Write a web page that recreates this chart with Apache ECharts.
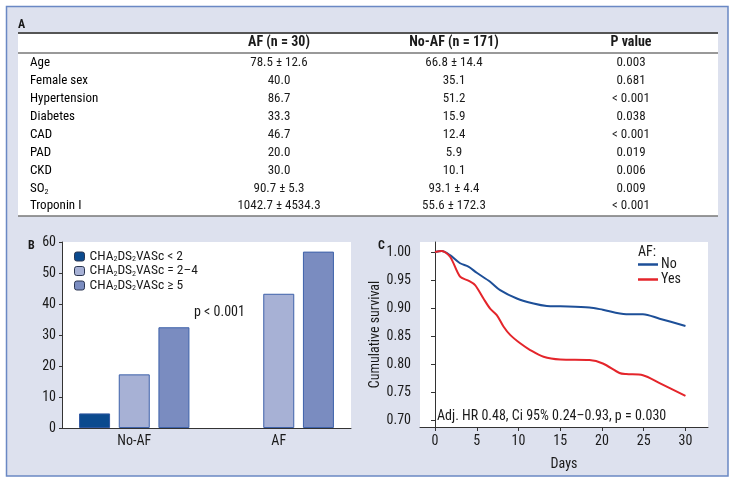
<!DOCTYPE html>
<html><head><meta charset="utf-8">
<script src="https://cdn.jsdelivr.net/npm/echarts@6/dist/echarts.min.js"></script>
<style>html,body{margin:0;padding:0;background:#fff}#c{width:735px;height:483px}</style>
</head><body><div id="c"></div>
<script>
const FONT = "'Liberation Sans Narrow','Roboto Condensed','DejaVu Sans Condensed','Liberation Sans',Arial,sans-serif";

// ---- Panel A: table ----
const tableHeaders = ['AF (n = 30)', 'No-AF (n = 171)', 'P value'];
const rowLabels = ['Age', 'Female sex', 'Hypertension', 'Diabetes', 'CAD', 'PAD', 'CKD', 'SO₂', 'Troponin I'];
const afValues = ['78.5 ± 12.6', '40.0', '86.7', '33.3', '46.7', '20.0', '30.0', '90.7 ± 5.3', '1042.7 ± 4534.3'];
const noAfValues = ['66.8 ± 14.4', '35.1', '51.2', '15.9', '12.4', '5.9', '10.1', '93.1 ± 4.4', '55.6 ± 172.3'];
const pValues = ['0.003', '0.681', '< 0.001', '0.038', '< 0.001', '0.019', '0.006', '0.009', '< 0.001'];

// ---- Panel B: bars ----
const barCategories = ['No-AF', 'AF'];
const barSeriesNames = ['CHA₂DS₂VASc < 2', 'CHA₂DS₂VASc = 2–4', 'CHA₂DS₂VASc ≥ 5'];
const barLow = [4.7, null];
const barMid = [17.3, 43.3];
const barHigh = [32.5, 56.9];
const barText = 'p < 0.001';

// ---- Panel C: survival ----
const survNames = ['No', 'Yes'];
const noDays = [0, 0.8, 1.8, 3.0, 4.0, 5.0, 6.6, 7.8, 9.8, 11.8, 13.4, 15, 18.5, 20.1, 22.9, 24.9, 26.9, 30];
const noSurv = [1.000, 1.002, 0.9945, 0.980, 0.974, 0.963, 0.947, 0.932, 0.917, 0.908, 0.9036, 0.903, 0.901, 0.897, 0.889, 0.889, 0.881, 0.868];
const yesDays = [0, 0.8, 1.8, 3.0, 4.0, 4.8, 5.8, 6.6, 7.4, 8.2, 9.0, 10.2, 11.4, 13.0, 15, 18.5, 20.1, 22.1, 22.9, 24.9, 26.9, 30];
const yesSurv = [1.000, 1.002, 0.9917, 0.956, 0.949, 0.941, 0.917, 0.899, 0.8875, 0.867, 0.852, 0.837, 0.825, 0.813, 0.808, 0.807, 0.801, 0.784, 0.782, 0.780, 0.766, 0.743];
const survYTicks = [0.70, 0.75, 0.80, 0.85, 0.90, 0.95, 1.00];
const survXTicks = [0, 5, 10, 15, 20, 25, 30];
const survNote = 'Adj. HR 0.48, Ci 95% 0.24–0.93, p = 0.030';

const BG = '#dde1ee', FRAME = '#6a88c4', TXT = '#1a1a1a';
const barColors = ['#0b4a8e', '#a7b1d5', '#7a8cc0'];
const lineColors = ['#1d4f98', '#e4252b'];

function richify(s) {
  return s.split('₂').map((p, i) => (i > 0 ? '{s|2}' : '') + (p ? '{t|' + p + '}' : '')).join('');
}
function richStyles(size, lh) {
  return {
    t: { fontFamily: FONT, fontSize: size, lineHeight: lh, color: TXT },
    s: { fontFamily: FONT, fontSize: Math.round(size * 0.6), lineHeight: lh - 5, verticalAlign: 'bottom', color: TXT }
  };
}

const graphics = [];
graphics.push({ type: 'rect', z: -10, shape: { x: 6.5, y: 6.5, width: 721.5, height: 469.5 }, style: { fill: BG, stroke: FRAME, lineWidth: 1.5 } });
const tX0 = 18, tX1 = 718, tTop = 33, tHead = 53, tBot = 216;
graphics.push({ type: 'rect', z: -9, shape: { x: tX0, y: tTop, width: tX1 - tX0, height: tBot - tTop }, style: { fill: '#fff' } });
graphics.push({ type: 'line', shape: { x1: tX0, y1: tTop, x2: tX1, y2: tTop }, style: { stroke: '#555', lineWidth: 2 } });
graphics.push({ type: 'line', shape: { x1: tX0, y1: tHead, x2: tX1, y2: tHead }, style: { stroke: '#777', lineWidth: 1.5 } });
graphics.push({ type: 'line', shape: { x1: tX0, y1: tBot, x2: tX1, y2: tBot }, style: { stroke: '#777', lineWidth: 1.5 } });
const colX = [279, 454, 631];
const labelX = 30;
const panelLabel = (t, x, y) => ({ type: 'text', style: { text: t, x: x, y: y, font: 'bold 12px ' + FONT, fill: TXT, verticalAlign: 'middle' } });
graphics.push(panelLabel('A', 18, 25));
graphics.push(panelLabel('B', 28, 246));
graphics.push(panelLabel('C', 378, 246));
tableHeaders.forEach((h, i) => graphics.push({ type: 'text', style: { text: h, x: colX[i], y: 42.5, font: 'bold 14px ' + FONT, fill: TXT, align: 'center', verticalAlign: 'middle' } }));
rowLabels.forEach((lab, r) => {
  const y = 63 + 17.9 * r;
  graphics.push({ type: 'text', style: { text: richify(lab), rich: richStyles(13, 15), x: labelX, y: y, align: 'left', verticalAlign: 'middle' } });
  [afValues, noAfValues, pValues].forEach((col, c) => {
    graphics.push({ type: 'text', style: { text: col[r], x: colX[c], y: y, font: '13px ' + FONT, fill: TXT, align: 'center', verticalAlign: 'middle' } });
  });
});
graphics.push({ type: 'text', style: { text: barText, x: 194, y: 312, font: '14px ' + FONT, fill: TXT, verticalAlign: 'middle' } });
graphics.push({ type: 'text', style: { text: 'AF:', x: 638, y: 252, font: '14px ' + FONT, fill: TXT, verticalAlign: 'middle' } });
graphics.push({ type: 'text', style: { text: survNote, x: 437, y: 416, font: '14px ' + FONT, fill: TXT, verticalAlign: 'middle' } });

const axisLineStyle = { lineStyle: { color: '#333', width: 1 } };
const labStyle = { fontFamily: FONT, fontSize: 13, color: TXT };

const option = {
  animation: false,
  backgroundColor: '#fff',
  textStyle: { fontFamily: FONT },
  graphic: graphics,
  grid: [
    { left: 62, top: 242, width: 289, height: 186, show: true, backgroundColor: '#fff', borderWidth: 0 },
    { left: 420, top: 242, width: 288, height: 185, show: true, backgroundColor: '#fff', borderWidth: 0 }
  ],
  legend: [
    {
      data: barSeriesNames, orient: 'vertical', left: 74, top: 249.5, padding: 0, itemWidth: 10, itemHeight: 9, itemGap: 0.5,
      itemStyle: { borderColor: '#2a3550', borderWidth: 1 },
      formatter: n => richify(n), textStyle: { rich: richStyles(13.5, 13) }
    },
    {
      data: survNames, orient: 'vertical', left: 638, top: 257, padding: 0, itemWidth: 20, itemHeight: 2.5, itemGap: 0, icon: 'rect',
      textStyle: { fontFamily: FONT, fontSize: 14, color: TXT, lineHeight: 15, padding: [0, 0, 0, -2] }
    }
  ],
  xAxis: [
    {
      type: 'category', gridIndex: 0, data: barCategories,
      axisLine: axisLineStyle, axisTick: { show: false }, axisLabel: Object.assign({ margin: 6 }, labStyle, { fontSize: 14 }), splitLine: { show: false }
    },
    {
      type: 'value', gridIndex: 1, min: -1.8, max: 32.7,
      axisLine: axisLineStyle, axisTick: { show: true, length: 4, customValues: survXTicks, lineStyle: { color: '#333' } },
      axisLabel: { margin: 7, customValues: survXTicks, fontSize: 14, fontFamily: FONT, color: TXT }, splitLine: { show: false },
      name: 'Days', nameLocation: 'middle', nameGap: 30, nameTextStyle: { fontFamily: FONT, fontSize: 14, color: TXT }
    }
  ],
  yAxis: [
    {
      type: 'value', gridIndex: 0, min: 0, max: 60, interval: 10,
      axisLine: { show: true, lineStyle: { color: '#333' } }, axisTick: { show: true, length: 3, lineStyle: { color: '#333' } },
      axisLabel: Object.assign({ margin: 6 }, labStyle, { fontSize: 14 }), splitLine: { show: false }
    },
    {
      type: 'value', gridIndex: 1, min: 0.6875, max: 1.018,
      axisLine: { show: true, lineStyle: { color: '#333' } },
      axisTick: { show: true, length: 4, customValues: survYTicks, lineStyle: { color: '#333' } },
      axisLabel: { margin: 9, customValues: survYTicks, formatter: v => v.toFixed(2), fontFamily: FONT, fontSize: 14, color: TXT },
      splitLine: { show: false },
      name: 'Cumulative survival', nameLocation: 'middle', nameGap: 38, nameTextStyle: { fontFamily: FONT, fontSize: 14, color: TXT }
    }
  ],
  series: [
    { name: barSeriesNames[0], type: 'bar', xAxisIndex: 0, yAxisIndex: 0, data: barLow, barWidth: 31, barGap: '28%', itemStyle: { color: barColors[0], borderColor: '#2f57a0', borderWidth: 1 } },
    { name: barSeriesNames[1], type: 'bar', xAxisIndex: 0, yAxisIndex: 0, data: barMid, barWidth: 31, barGap: '28%', itemStyle: { color: barColors[1], borderColor: '#3e62aa', borderWidth: 1 } },
    { name: barSeriesNames[2], type: 'bar', xAxisIndex: 0, yAxisIndex: 0, data: barHigh, barWidth: 31, barGap: '28%', itemStyle: { color: barColors[2], borderColor: '#3e62aa', borderWidth: 1 } },
    { name: survNames[0], type: 'line', xAxisIndex: 1, yAxisIndex: 1, data: noDays.map((d, i) => [d, noSurv[i]]), smooth: 0.3, showSymbol: false, lineStyle: { color: lineColors[0], width: 2 }, itemStyle: { color: lineColors[0] } },
    { name: survNames[1], type: 'line', xAxisIndex: 1, yAxisIndex: 1, data: yesDays.map((d, i) => [d, yesSurv[i]]), smooth: 0.3, showSymbol: false, lineStyle: { color: lineColors[1], width: 2 }, itemStyle: { color: lineColors[1] } }
  ]
};
const chart = echarts.init(document.getElementById('c'), null, { renderer: 'canvas' });
chart.setOption(option);
</script>
</body></html>
